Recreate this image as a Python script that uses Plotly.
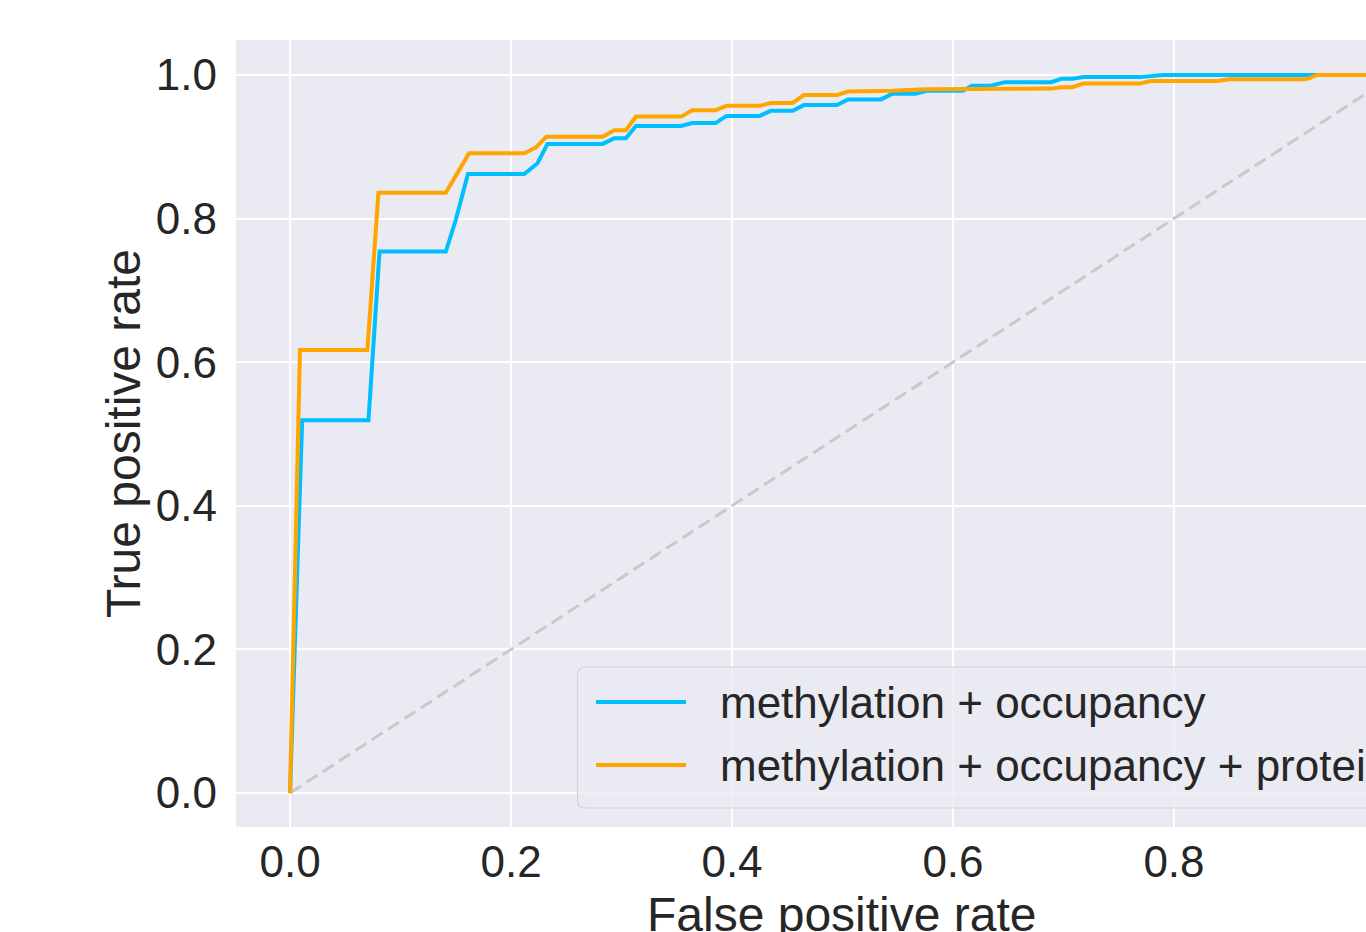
import plotly.graph_objects as go

# ROC curve: methylation + occupancy
fpr_mo = [0, 0.011, 0.071, 0.081, 0.141, 0.150, 0.161, 0.212, 0.224, 0.233, 0.283, 0.2935, 0.304, 0.313,
          0.354, 0.364, 0.385, 0.395, 0.425, 0.435, 0.455, 0.465, 0.495, 0.505, 0.535, 0.545, 0.566, 0.576,
          0.609, 0.617, 0.634, 0.647, 0.689, 0.698, 0.708, 0.718, 0.769, 0.790, 1.0]
tpr_mo = [0, 0.519, 0.519, 0.754, 0.754, 0.798, 0.862, 0.862, 0.877, 0.904, 0.904, 0.912, 0.912, 0.929,
          0.929, 0.933, 0.933, 0.943, 0.943, 0.950, 0.950, 0.958, 0.958, 0.966, 0.966, 0.974, 0.974, 0.978,
          0.978, 0.985, 0.985, 0.990, 0.990, 0.9946, 0.9946, 0.997, 0.997, 1.0, 1.0]

# ROC curve: methylation + occupancy + protein
fpr_mop = [0, 0.009, 0.070, 0.080, 0.141, 0.150, 0.162, 0.212, 0.2226, 0.232, 0.283, 0.2935, 0.304, 0.313,
           0.354, 0.364, 0.385, 0.395, 0.425, 0.435, 0.455, 0.465, 0.495, 0.505, 0.535, 0.545, 0.576, 0.637,
           0.647, 0.689, 0.698, 0.708, 0.718, 0.769, 0.779, 0.839, 0.850, 0.919, 0.930, 1.0]
tpr_mop = [0, 0.617, 0.617, 0.836, 0.836, 0.859, 0.891, 0.891, 0.899, 0.914, 0.914, 0.923, 0.923, 0.942,
           0.942, 0.951, 0.951, 0.957, 0.957, 0.961, 0.961, 0.972, 0.972, 0.977, 0.977, 0.978, 0.980, 0.980,
           0.981, 0.981, 0.983, 0.983, 0.988, 0.988, 0.9915, 0.9915, 0.994, 0.994, 1.0, 1.0]

chance_x = [0, 1]
chance_y = [0, 1]

series_names = ["methylation + occupancy", "methylation + occupancy + protein"]
series_colors = ["#00BFFF", "#FFA500"]
tick_vals = [0.0, 0.2, 0.4, 0.6, 0.8, 1.0]
tick_text = ["0.0", "0.2", "0.4", "0.6", "0.8", "1.0"]

FONT = "Liberation Sans, Arial, sans-serif"
TXT = "#262626"

# layout geometry (pixels within the figure)
W, H = 1366, 932
ML, MR, MT, MB = 236, 0, 40, 105
PW, PH = W - ML - MR, H - MT - MB


def px(x):  # figure pixel x -> paper x
    return (x - ML) / PW


def py(y):  # figure pixel y -> paper y
    return (H - MB - y) / PH


fig = go.Figure()
fig.add_trace(go.Scatter(x=chance_x, y=chance_y, mode="lines", showlegend=False,
                         line=dict(color="#c9c9cc", width=3, dash="13px,6.5px"), hoverinfo="skip"))
fig.add_trace(go.Scatter(x=fpr_mo, y=tpr_mo, mode="lines", name=series_names[0], showlegend=False,
                         line=dict(color=series_colors[0], width=4)))
fig.add_trace(go.Scatter(x=fpr_mop, y=tpr_mop, mode="lines", name=series_names[1], showlegend=False,
                         line=dict(color=series_colors[1], width=4)))

# legend (matplotlib-style box with rounded corners)
x0, x1 = px(577.5), px(1500)
y1, y0 = py(667), py(808)
rx, ry = 8 / PW, 8 / PH
box = (f"M {x0+rx},{y1} L {x1},{y1} L {x1},{y0} L {x0+rx},{y0} "
       f"Q {x0},{y0} {x0},{y0+ry} L {x0},{y1-ry} Q {x0},{y1} {x0+rx},{y1} Z")
shapes = [dict(type="path", path=box, xref="paper", yref="paper",
               fillcolor="rgba(234,234,242,0.8)", line=dict(color="#d2d2d6", width=1.2), layer="above")]
annotations = []
row_y = [702, 765]
for name, col, ry_ in zip(series_names, series_colors, row_y):
    shapes.append(dict(type="line", xref="paper", yref="paper", x0=px(596), x1=px(686),
                       y0=py(ry_), y1=py(ry_), line=dict(color=col, width=4), layer="above"))
    annotations.append(dict(text=name, xref="paper", yref="paper", x=px(718), y=py(ry_),
                            xanchor="left", yanchor="middle", showarrow=False,
                            font=dict(size=44, color=TXT, family=FONT)))

annotations.append(dict(text="False positive rate", x=0.5, xref="x", xanchor="center",
                        y=-0.0755, yref="paper", yanchor="top", showarrow=False,
                        font=dict(size=48, color=TXT, family=FONT)))

fig.update_layout(
    width=W, height=H,
    margin=dict(l=ML, r=MR, t=MT, b=MB, autoexpand=False),
    paper_bgcolor="white", plot_bgcolor="#EAEAF2",
    font=dict(family=FONT, size=44, color=TXT),
    showlegend=False,
    shapes=shapes,
    annotations=annotations,
)
fig.update_xaxes(range=[-0.0489, 0.9738], tickvals=tick_vals, ticktext=tick_text,
                 showgrid=True, gridcolor="white", gridwidth=1.8, zeroline=False,
                 showline=False, ticks="", ticklabelstandoff=5,
                 tickfont=dict(size=44, color=TXT))
fig.update_yaxes(range=[-0.0474, 1.0487], tickvals=tick_vals, ticktext=tick_text,
                 showgrid=True, gridcolor="white", gridwidth=1.8, zeroline=False,
                 showline=False, ticks="", ticklabelstandoff=18,
                 tickfont=dict(size=44, color=TXT),
                 title=dict(text="True positive rate", font=dict(size=48, color=TXT), standoff=0))

fig.write_html("out.html", config={"displayModeBar": False},
               post_script="document.body.style.margin='0';document.body.style.overflow='hidden';")
